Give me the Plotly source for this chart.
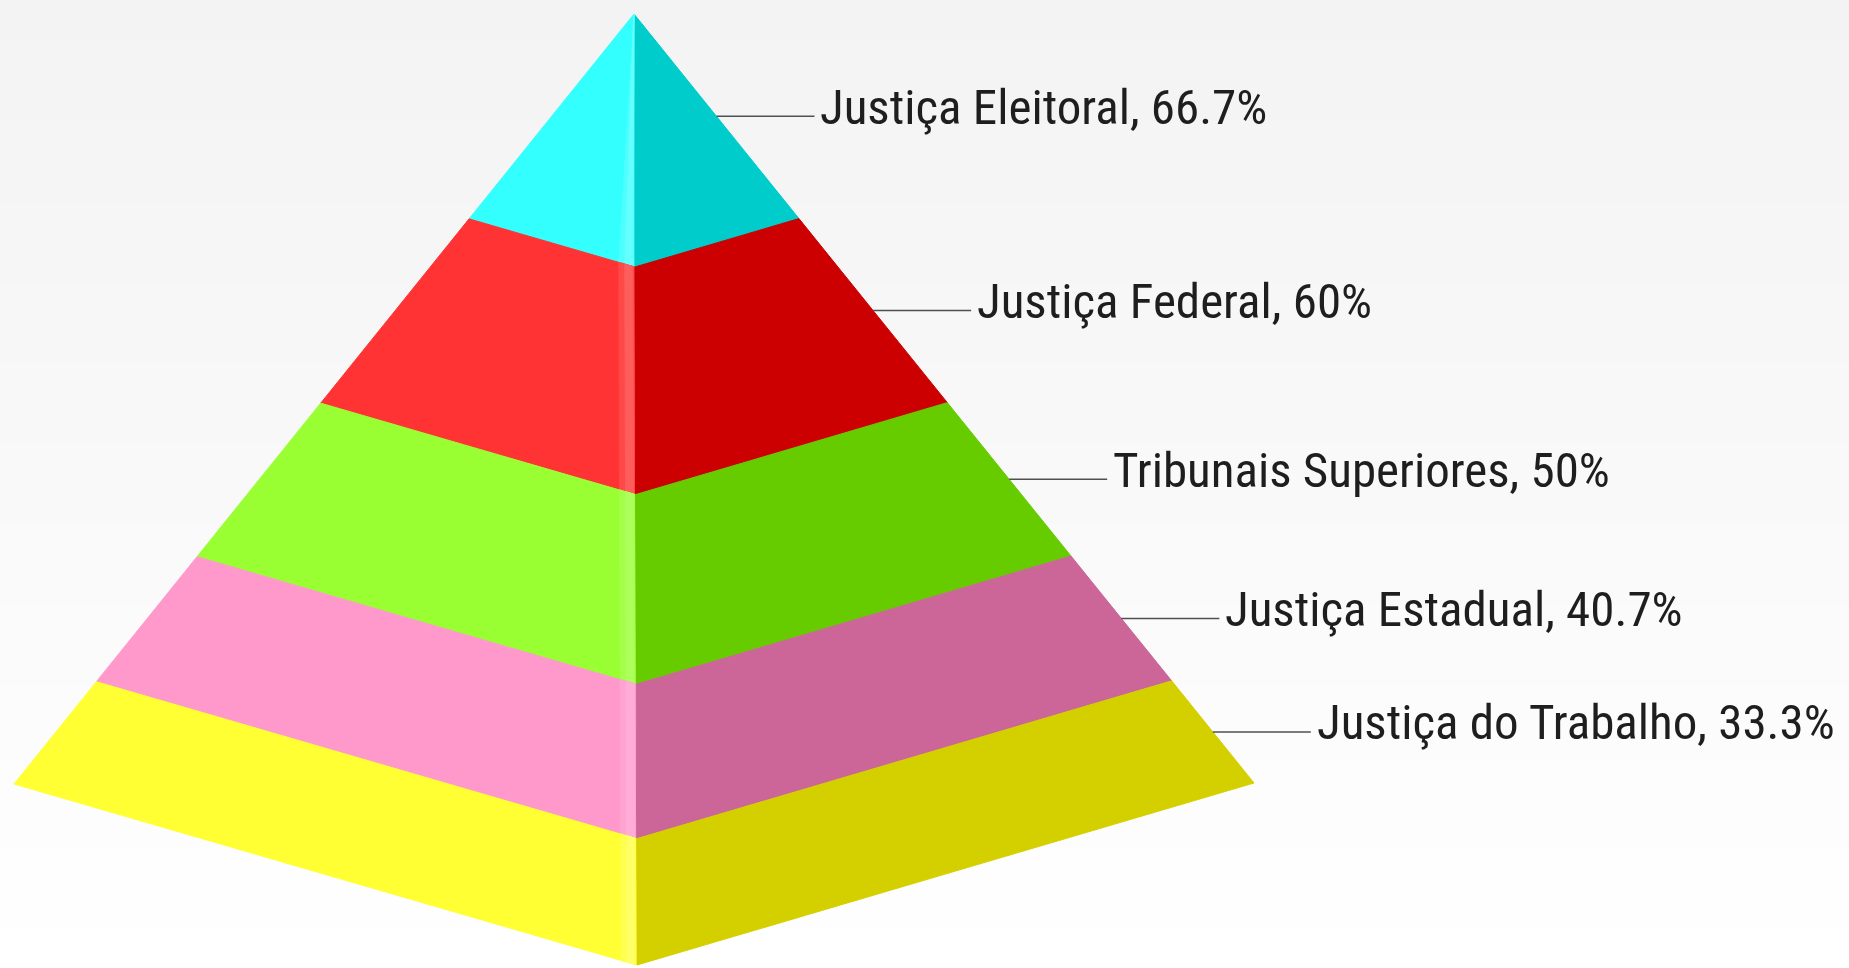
import plotly.graph_objects as go

# ---- data ----
categories = ["Justiça Eleitoral", "Justiça Federal", "Tribunais Superiores",
              "Justiça Estadual", "Justiça do Trabalho"]
values = [66.7, 60, 50, 40.7, 33.3]

# ---- style ----
left_colors = ["#33FFFF", "#FF3333", "#99FF33", "#FF99CC", "#FFFF33"]
right_colors = ["#00CCCC", "#CC0000", "#66CC00", "#CC6699", "#D4D000"]
glow_colors = ["#66FFFF", "#FF5C5C", "#ADFF5C", "#FFADD6", "#FFFF66"]
glow2_colors = ["#4DFFFF", "#FF4848", "#A3FF48", "#FFA3D1", "#FFFF4D"]

W, H = 1849, 968
# projected pyramid geometry (pixel space of the axes)
APEX = (634, 14)
LEFT = (14, 784)
FRONT = (637, 965)
RIGHT = (1254, 783)
LEADER_LEN = 98
FONT = "Liberation Sans Narrow, Arial Narrow, Roboto Condensed, Liberation Sans, sans-serif"


def along(p, t):
    return (APEX[0] + t * (p[0] - APEX[0]), APEX[1] + t * (p[1] - APEX[1]))


def mix(a, b, u):
    return (a[0] + u * (b[0] - a[0]), a[1] + u * (b[1] - a[1]))


total = sum(values)
cum = [0.0]
for v in values:
    cum.append(cum[-1] + v / total)

fig = go.Figure()


def poly(pts, color):
    xs = [p[0] for p in pts] + [pts[0][0]]
    ys = [p[1] for p in pts] + [pts[0][1]]
    fig.add_trace(go.Scatter(x=xs, y=ys, mode="lines", fill="toself",
                             fillcolor=color, line=dict(color=color, width=1),
                             hoverinfo="skip", showlegend=False))


def off(f, l, d):
    width = abs(f[0] - l[0])
    u = 1.0 if width < 1e-6 else min(1.0, d / width)
    return mix(f, l, u)


for i, cat in enumerate(categories):
    t0, t1 = cum[i], cum[i + 1]
    l0, l1 = along(LEFT, t0), along(LEFT, t1)
    f0, f1 = along(FRONT, t0), along(FRONT, t1)
    r0, r1 = along(RIGHT, t0), along(RIGHT, t1)
    # left (lit) face
    poly([l0, f0, f1, l1], left_colors[i])
    # right (shaded) face
    poly([f0, r0, r1, f1], right_colors[i])

    # soft highlight near the front edge on the lit face
    a0, a1 = off(f0, l0, 1), off(f1, l1, 1)
    b0, b1 = off(f0, l0, 16), off(f1, l1, 16)
    poly([a0, b0, b1, a1], glow2_colors[i])
    a0, a1 = off(f0, l0, 2), off(f1, l1, 2)
    b0, b1 = off(f0, l0, 10), off(f1, l1, 10)
    poly([a0, b0, b1, a1], glow_colors[i])

    # leader line + label
    tm = (t0 + t1) / 2
    start = along(RIGHT, tm)
    end_x = start[0] + LEADER_LEN
    fig.add_trace(go.Scatter(x=[start[0], end_x], y=[start[1], start[1]],
                             mode="lines", line=dict(color="#505050", width=1.5),
                             hoverinfo="skip", showlegend=False))
    fig.add_annotation(x=end_x + 4, y=start[1] - 9, xref="x", yref="y",
                       text=f"{cat}, {values[i]:g}%", showarrow=False,
                       xanchor="left", yanchor="middle",
                       font=dict(family=FONT, size=49, color="#1E1E1E"))

# background vertical gradient
n = 48
shapes = []
for k in range(n):
    f = k / (n - 1)
    c = int(round(243 + f * (255 - 243)))
    shapes.append(dict(type="rect", xref="x", yref="y", x0=0, x1=W,
                       y0=k * H / n, y1=(k + 1) * H / n + 1,
                       fillcolor=f"rgb({c},{c},{c})", line=dict(width=0),
                       layer="below"))

fig.update_layout(
    width=W, height=H,
    margin=dict(l=0, r=0, t=0, b=0),
    paper_bgcolor="#FFFFFF", plot_bgcolor="#FFFFFF",
    xaxis=dict(range=[0, W], visible=False, fixedrange=True),
    yaxis=dict(range=[H, 0], visible=False, fixedrange=True),
    shapes=shapes,
    showlegend=False,
)

fig.write_html("out.html", config={"displayModeBar": False},
               post_script="document.body.style.margin='0';document.body.style.overflow='hidden';")
